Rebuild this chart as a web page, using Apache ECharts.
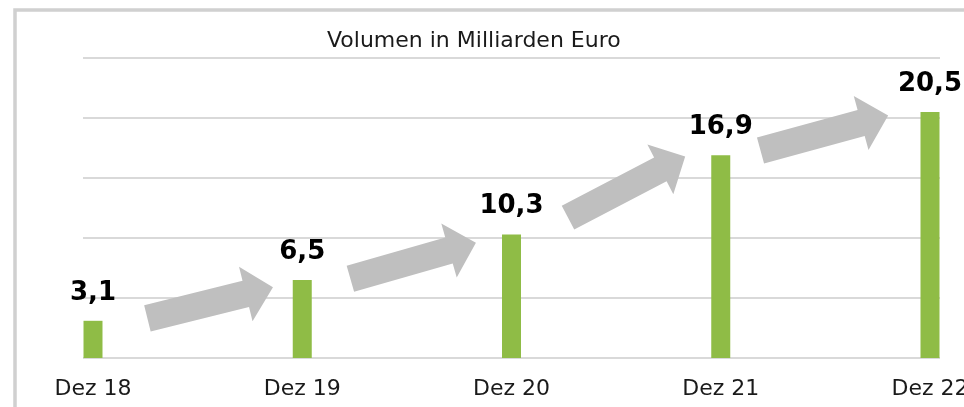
<!DOCTYPE html>
<html>
<head>
<meta charset="utf-8">
<script src="https://cdn.jsdelivr.net/npm/echarts@6/dist/echarts.min.js"></script>
<style>
  html, body { margin: 0; padding: 0; background: #fff; }
  #chart { width: 964px; height: 407px; }
</style>
</head>
<body>
<div id="chart"></div>
<script>
// Daten
var categories = ['Dez 18', 'Dez 19', 'Dez 20', 'Dez 21', 'Dez 22'];
var volumes = [3.1, 6.5, 10.3, 16.9, 20.5];
var titleText = 'Volumen in Milliarden Euro';
// Pfeile zwischen den Balken: [x von, Wert von, x bis, Wert bis] (x = Kategorie-Index)
var arrows = [
    [0.26, 3.3, 0.86, 5.9],
    [1.23, 6.6, 1.83, 9.6],
    [2.27, 11.7, 2.83, 16.8],
    [3.19, 17.3, 3.80, 20.2]
];

document.addEventListener('DOMContentLoaded', function() {
    var chart = echarts.init(document.getElementById('chart'));

    function fmt(v) {
        return String(v).replace('.', ',');
    }

    // Blockpfeil als Polygon
    function renderArrow(params, api) {
        var p0 = api.coord([api.value(0), api.value(1)]);
        var p1 = api.coord([api.value(2), api.value(3)]);
        var dx = p1[0] - p0[0], dy = p1[1] - p0[1];
        var len = Math.sqrt(dx * dx + dy * dy);
        var ux = dx / len, uy = dy / len;
        var nx = -uy, ny = ux;
        var shaft = 13.5, head = 28, headLen = 28;
        var bx = p1[0] - ux * headLen, by = p1[1] - uy * headLen;
        var pts = [
            [p0[0] + nx * shaft, p0[1] + ny * shaft],
            [bx + nx * shaft, by + ny * shaft],
            [bx + nx * head, by + ny * head],
            [p1[0], p1[1]],
            [bx - nx * head, by - ny * head],
            [bx - nx * shaft, by - ny * shaft],
            [p0[0] - nx * shaft, p0[1] - ny * shaft]
        ];
        return {
            type: 'polygon',
            shape: { points: pts },
            style: { fill: '#bfbfbf' }
        };
    }

    var option = {
        backgroundColor: '#ffffff',
        animation: false,
        title: {
            text: titleText,
            left: 322,
            top: 25,
            textStyle: {
                fontFamily: 'DejaVu Sans',
                fontSize: 22,
                fontWeight: 'normal',
                color: '#1a1a1a'
            }
        },
        graphic: [
            {
                type: 'rect',
                shape: { x: 15, y: 10, width: 1000, height: 500 },
                style: { fill: 'none', stroke: '#d0d0d0', lineWidth: 3.5 },
                silent: true
            }
        ],
        grid: [
            { left: 83, right: 24, top: 58, bottom: 49, outerBoundsMode: 'none' },
            { left: 93, right: 34, top: 58, bottom: 49, outerBoundsMode: 'none' }
        ],
        xAxis: [
            { gridIndex: 0, type: 'value', show: false, min: 0, max: 1 },
            {
                gridIndex: 1,
                type: 'category',
                data: categories,
                boundaryGap: false,
                axisLine: { show: false },
                axisTick: { show: false },
                axisLabel: {
                    margin: 20,
                    fontFamily: 'DejaVu Sans',
                    fontSize: 22,
                    color: '#1a1a1a',
                    hideOverlap: false
                }
            },
            { gridIndex: 1, type: 'value', show: false, min: 0, max: 4 }
        ],
        yAxis: [
            {
                gridIndex: 0,
                type: 'value',
                min: 0,
                max: 25,
                interval: 5,
                axisLabel: { show: false },
                axisLine: { show: false },
                axisTick: { show: false },
                splitLine: { lineStyle: { color: '#d9d9d9', width: 2 } }
            },
            {
                gridIndex: 1,
                type: 'value',
                min: 0,
                max: 25,
                show: false,
                splitLine: { show: false }
            }
        ],
        series: [
            {
                type: 'custom',
                xAxisIndex: 2,
                yAxisIndex: 1,
                renderItem: renderArrow,
                data: arrows,
                silent: true,
                z: 3
            },
            {
                type: 'bar',
                xAxisIndex: 1,
                yAxisIndex: 1,
                data: volumes,
                barWidth: 19,
                itemStyle: { color: '#8fbc46' },
                label: {
                    show: true,
                    position: 'top',
                    distance: 15,
                    formatter: function(p) { return fmt(p.value); },
                    fontFamily: 'DejaVu Sans',
                    fontWeight: 'bold',
                    fontSize: 26,
                    color: '#000000'
                },
                z: 4
            }
        ]
    };
    chart.setOption(option);

    window.addEventListener('resize', function() {
        chart.resize();
    });
});
</script>
</body>
</html>
